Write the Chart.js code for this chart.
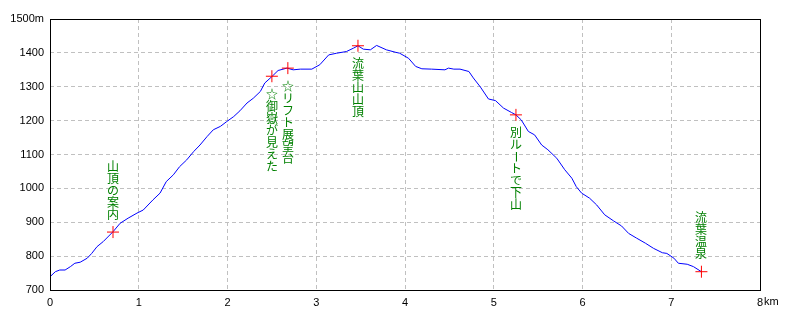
<!DOCTYPE html>
<html>
<head>
<meta charset="utf-8">
<script src="https://cdn.jsdelivr.net/npm/chart.js@4.4.1/dist/chart.umd.min.js"></script>
<style>
    html, body { margin: 0; padding: 0; background: #ffffff; }
    #wrap { width: 800px; height: 320px; }
</style>
</head>
<body>
<div id="wrap"><canvas id="profile"></canvas></div>
<script>
// Profile data (km, m)
const distKm = [0, 0.06, 0.11, 0.17, 0.23, 0.28, 0.34, 0.42, 0.47, 0.53, 0.60, 0.71, 0.79, 0.88, 0.98,
    1.05, 1.16, 1.24, 1.31, 1.39, 1.46, 1.54, 1.62, 1.69, 1.77, 1.84, 1.92, 1.99, 2.07, 2.14, 2.22,
    2.29, 2.37, 2.42, 2.50, 2.57, 2.67, 2.74, 2.82, 2.95, 3.04, 3.14, 3.23, 3.34, 3.42, 3.47, 3.53,
    3.61, 3.68, 3.79, 3.89, 3.94, 4.04, 4.12, 4.19, 4.30, 4.45, 4.49, 4.55, 4.62, 4.72, 4.77, 4.85,
    4.94, 5.02, 5.11, 5.20, 5.25, 5.31, 5.39, 5.46, 5.54, 5.61, 5.71, 5.80, 5.88, 5.93, 5.99, 6.08,
    6.16, 6.25, 6.35, 6.44, 6.52, 6.61, 6.71, 6.80, 6.90, 6.95, 7.03, 7.08, 7.18, 7.25, 7.34];
const elevM = [739, 754, 759, 759, 769, 779, 782, 794, 808, 828, 843, 872, 897, 912, 927,
    936, 966, 986, 1020, 1040, 1064, 1084, 1109, 1128, 1153, 1173, 1183, 1197, 1212, 1229, 1252,
    1266, 1286, 1311, 1330, 1348, 1355, 1350, 1352, 1352, 1365, 1394, 1399, 1404, 1414, 1421, 1411,
    1409, 1422, 1409, 1402, 1399, 1384, 1360, 1353, 1352, 1350, 1355, 1352, 1352, 1345, 1326, 1299,
    1264, 1259, 1237, 1224, 1217, 1202, 1168, 1158, 1128, 1114, 1089, 1055, 1030, 1005, 986, 971,
    951, 922, 904, 889, 867, 853, 838, 823, 810, 808, 794, 779, 776, 769, 754];

// Waypoints
const markerKm = [0.71, 2.50, 2.68, 3.47, 5.25, 7.34];
const markerElev = [871, 1331, 1355, 1421, 1217, 754];
const markerLabels = ['山頂の案内', '☆御嶽が見えた', '☆リフト展望台', '流葉山山頂', '別ルートで下山', '流葉温泉'];

// Axis ticks
const xTicks = [0, 1, 2, 3, 4, 5, 6, 7, 8];
const yTicks = [700, 800, 900, 1000, 1100, 1200, 1300, 1400, 1500];

const profilePoints = distKm.map((d, i) => ({ x: d, y: elevM[i] }));
const markerPoints = markerKm.map((d, i) => ({ x: d, y: markerElev[i] }));

const tickFont = '"Liberation Sans", Arial, sans-serif';

// frame around the plot area + "km" unit after the last x tick
const framePlugin = {
    id: 'frame',
    afterDraw(chart) {
        const { ctx, chartArea } = chart;
        ctx.save();
        ctx.strokeStyle = '#000000';
        ctx.lineWidth = 1;
        ctx.setLineDash([]);
        ctx.strokeRect(Math.round(chartArea.left) + 0.5, Math.round(chartArea.top) + 0.5,
            Math.round(chartArea.right - chartArea.left), Math.round(chartArea.bottom - chartArea.top));

        const xs = chart.scales.x;
        ctx.font = '11px ' + tickFont;
        ctx.fillStyle = '#000000';
        ctx.textBaseline = 'top';
        ctx.textAlign = 'left';
        const lastX = xs.getPixelForValue(xTicks[xTicks.length - 1]);
        ctx.fillText('km', lastX + ctx.measureText('8').width / 2 + 1, chartArea.bottom + 6);
        ctx.restore();
    }
};

// vertical waypoint labels (tategaki)
const labelPlugin = {
    id: 'waypointLabels',
    afterDatasetsDraw(chart, args, opts) {
        const { ctx } = chart;
        const xs = chart.scales.x;
        const ys = chart.scales.y;
        const pitch = 12;
        ctx.save();
        ctx.font = '12px "Noto Sans CJK JP", sans-serif';
        ctx.fillStyle = '#008000';
        ctx.textAlign = 'center';
        ctx.textBaseline = 'middle';
        markerLabels.forEach((txt, i) => {
            const chars = Array.from(txt);
            const px = Math.round(xs.getPixelForValue(markerKm[i]));
            const py = ys.getPixelForValue(markerElev[i]);
            let top;
            if (opts.sides[i] === 'up') {
                top = py - opts.gap - chars.length * pitch;
            } else {
                top = py + opts.gap;
            }
            chars.forEach((ch, j) => {
                const cy = top + j * pitch + pitch / 2;
                if (ch === 'ー') {
                    ctx.save();
                    ctx.translate(px, cy);
                    ctx.rotate(Math.PI / 2);
                    ctx.fillText(ch, 0, 0);
                    ctx.restore();
                } else {
                    ctx.fillText(ch, px, cy);
                }
            });
        });
        ctx.restore();
    }
};

const ctx = document.getElementById('profile').getContext('2d');
new Chart(ctx, {
    type: 'scatter',
    data: {
        datasets: [
            {
                label: 'markers',
                data: markerPoints,
                showLine: false,
                pointStyle: 'cross',
                pointRadius: 6,
                pointBorderColor: '#ff0000',
                pointBorderWidth: 1,
                pointHoverRadius: 6,
            },
            {
                label: 'profile',
                data: profilePoints,
                showLine: true,
                borderColor: '#0000ff',
                borderWidth: 1,
                pointRadius: 0,
                tension: 0,
            },
        ],
    },
    options: {
        responsive: true,
        maintainAspectRatio: false,
        animation: false,
        layout: {
            padding: { top: 19, right: 40, left: 0, bottom: 0 }
        },
        scales: {
            x: {
                type: 'linear',
                min: 0,
                max: 8,
                afterBuildTicks: (axis) => { axis.ticks = xTicks.map(v => ({ value: v })); },
                afterFit: (axis) => { axis.height = 30; },
                grid: {
                    color: '#c0c0c0',
                    drawTicks: false,
                },
                border: { display: false, dash: [4, 3] },
                ticks: {
                    color: '#000000',
                    padding: 6,
                    maxRotation: 0,
                    autoSkip: false,
                    font: { family: tickFont, size: 11 },
                    callback: (v) => String(v),
                },
            },
            y: {
                type: 'linear',
                min: 700,
                max: 1500,
                afterBuildTicks: (axis) => { axis.ticks = yTicks.map(v => ({ value: v })); },
                afterFit: (axis) => { axis.width = 50; },
                grid: {
                    color: '#c0c0c0',
                    drawTicks: false,
                },
                border: { display: false, dash: [4, 3] },
                ticks: {
                    color: '#000000',
                    padding: 6,
                    autoSkip: false,
                    font: { family: tickFont, size: 11 },
                    callback: (v) => v === 1500 ? '1500m' : String(v),
                },
            },
        },
        plugins: {
            legend: { display: false },
            tooltip: { enabled: false },
            waypointLabels: {
                sides: ['up', 'down', 'down', 'down', 'down', 'up'],
                gap: 12,
            },
        },
    },
    plugins: [labelPlugin, framePlugin],
});
</script>
</body>
</html>
